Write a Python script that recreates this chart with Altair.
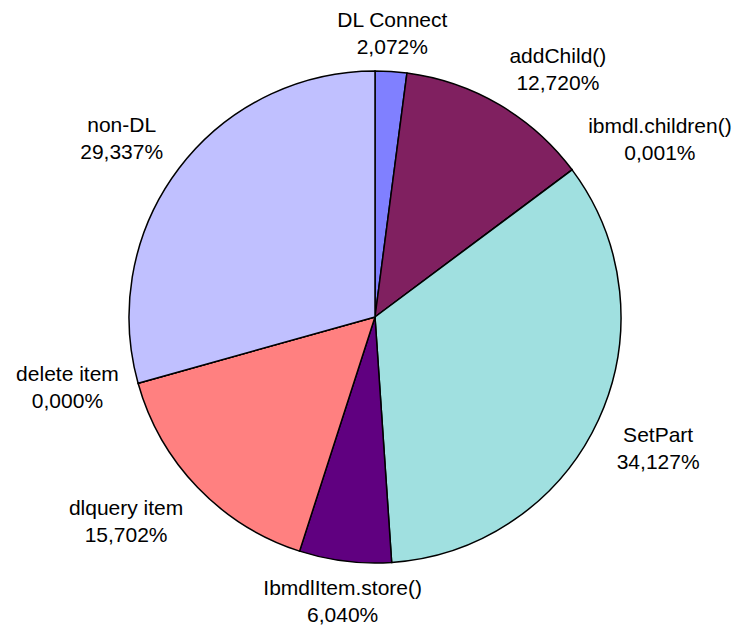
import math
import altair as alt
import pandas as pd

# Slices, clockwise from 12 o'clock
names = ["DL Connect", "addChild()", "ibmdl.children()", "SetPart",
         "IbmdlItem.store()", "dlquery item", "delete item", "non-DL"]
shares = [2.072, 12.720, 0.001, 34.127, 6.040, 15.702, 0.000, 29.337]
colors = ["#8080FF", "#802060", "#FFFFC0", "#A0E0E0",
          "#600080", "#FF8080", "#0080C0", "#C0C0FF"]

W, H = 728, 616          # plot area
RADIUS = 246
FONT_SIZE = 21
LINE_H = 27
GAP = 20                 # distance from the rim to the nearest edge of a label
HALF_H_ABOVE = 17        # label block extent used for labels above the pie centre
HALF_H_BELOW = 21        # ... and below it

# Arial / Liberation Sans advance widths (1/1000 em) for label layout
ADV = {"a": 556, "b": 556, "c": 500, "d": 556, "e": 556, "h": 556, "i": 222,
       "l": 222, "m": 833, "n": 556, "o": 556, "q": 556, "r": 333, "s": 500,
       "t": 278, "u": 556, "y": 500, "C": 722, "D": 722, "I": 278, "L": 556,
       "P": 667, "S": 667, "(": 333, ")": 333, ".": 278, ",": 278, "-": 333,
       " ": 278, "%": 889}


def text_width(s):
    return sum(ADV.get(ch, 556) for ch in s) * FONT_SIZE / 1000.0


pct = [f"{v:.3f}".replace(".", ",") + "%" for v in shares]
total = sum(shares)

# Label centres: anchor the label corner nearest the pie on the slice's mid-angle
cx, cy = W / 2, H / 2
lx, ly, cum = [], [], 0.0
for name, p, v in zip(names, pct, shares):
    mid = (cum + v / 2) / total * 2 * math.pi
    cum += v
    s, c = math.sin(mid), math.cos(mid)
    px = cx + (RADIUS + GAP) * s
    py = cy - (RADIUS + GAP) * c
    hw = max(text_width(name), text_width(p)) / 2
    ox = (1 if s > 0 else -1) * hw if abs(s) > 0.2 else 0
    if abs(c) <= 0.3:
        oy = 0
    elif c > 0:
        oy = -HALF_H_ABOVE
    else:
        oy = HALF_H_BELOW
    lx.append(px + ox)
    # the first line sits on y, so move the two-line block up by half a line
    ly.append(py + oy - LINE_H / 2)

df = pd.DataFrame({
    "idx": list(range(len(names))),
    "name": names,
    "share": shares,
    "label": [f"{n}\n{p}" for n, p in zip(names, pct)],
    "lx": lx,
    "ly": ly,
})

pie = alt.Chart(df).mark_arc(
    outerRadius=RADIUS, stroke="black", strokeWidth=1.5
).encode(
    theta=alt.Theta("share:Q", stack=True),
    order=alt.Order("idx:Q"),
    color=alt.Color("name:N", scale=alt.Scale(domain=names, range=colors), legend=None),
)

labels = alt.Chart(df).mark_text(
    font="Liberation Sans", fontSize=FONT_SIZE, lineHeight=LINE_H,
    lineBreak="\n", align="center", baseline="middle", color="black",
).encode(
    x=alt.X("lx:Q", scale=None, axis=None),
    y=alt.Y("ly:Q", scale=None, axis=None),
    text="label:N",
)

chart = alt.layer(pie, labels).properties(
    width=W, height=H,
    padding={"left": 11, "top": 9, "right": 0, "bottom": 0},
    autosize=alt.AutoSizeParams(type="none"),
    background="white",
).configure_view(stroke=None)

chart.save("out.html", embed_options={"renderer": "svg", "actions": False})
